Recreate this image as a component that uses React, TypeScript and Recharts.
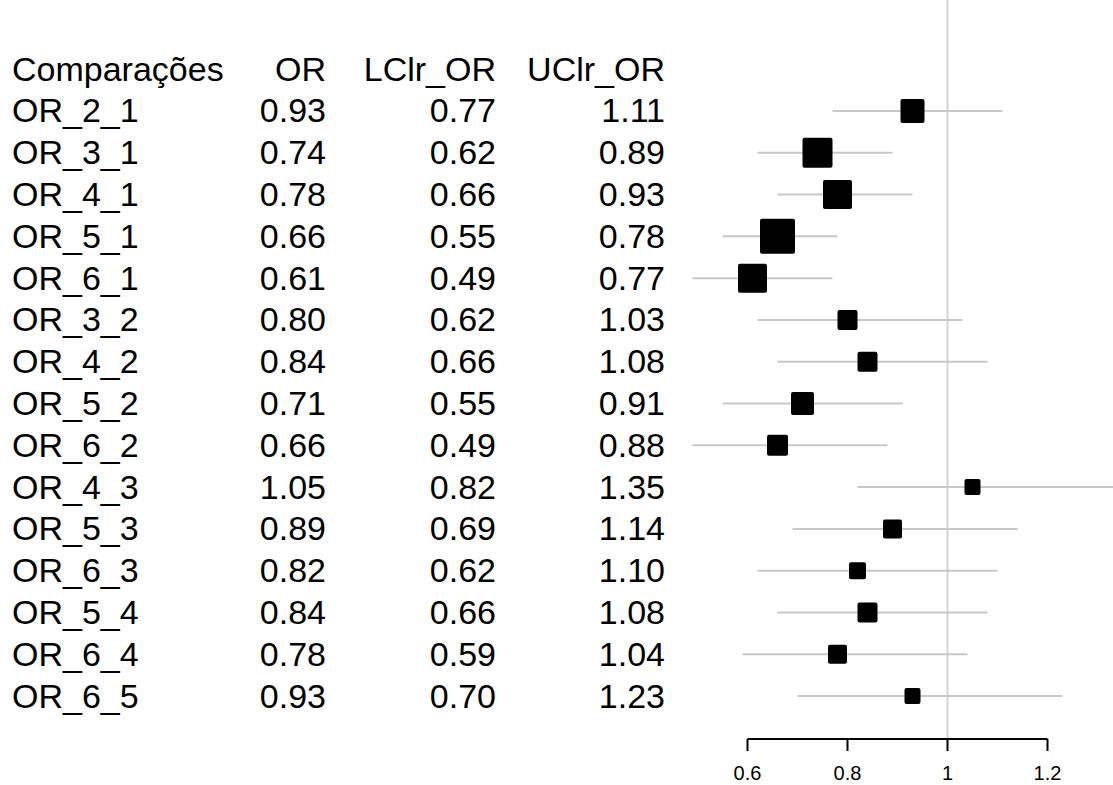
import React from 'react';
import { ComposedChart, Scatter, XAxis, YAxis, ErrorBar, ReferenceLine } from 'recharts';

const headers = ['Comparações', 'OR', 'LClr_OR', 'UClr_OR'];
const comparisons = ['OR_2_1', 'OR_3_1', 'OR_4_1', 'OR_5_1', 'OR_6_1', 'OR_3_2', 'OR_4_2', 'OR_5_2', 'OR_6_2', 'OR_4_3', 'OR_5_3', 'OR_6_3', 'OR_5_4', 'OR_6_4', 'OR_6_5'];
const orValues = [0.93, 0.74, 0.78, 0.66, 0.61, 0.8, 0.84, 0.71, 0.66, 1.05, 0.89, 0.82, 0.84, 0.78, 0.93];
const lowerCI = [0.77, 0.62, 0.66, 0.55, 0.49, 0.62, 0.66, 0.55, 0.49, 0.82, 0.69, 0.62, 0.66, 0.59, 0.7];
const upperCI = [1.11, 0.89, 0.93, 0.78, 0.77, 1.03, 1.08, 0.91, 0.88, 1.35, 1.14, 1.1, 1.08, 1.04, 1.23];
const weights = [24, 30, 29, 35, 29, 20, 20, 23, 21, 16, 19, 17, 20, 19, 16];
const xTicks = [0.6, 0.8, 1, 1.2];

const W = 1113;
const H = 785;
const FONT = '"Liberation Sans", Arial, Helvetica, sans-serif';

const X_MIN = -0.895;
const X_MAX = X_MIN + W / 500;
const Y_MIN = -1.656;
const Y_MAX = 16.028;

const pointData = comparisons.map((c, i) => ({
  row: i + 1,
  x: orValues[i],
  err: [orValues[i] - lowerCI[i], upperCI[i] - orValues[i]],
  w: weights[i],
}));

const tableData = [
  { row: 0, x: 0, cells: headers },
  ...comparisons.map((c, i) => ({
    row: i + 1,
    x: 0,
    cells: [c, orValues[i].toFixed(2), lowerCI[i].toFixed(2), upperCI[i].toFixed(2)],
  })),
];

const colX = [12, 326, 496, 665];

const TableRow = (props: any) => {
  const { cy, payload } = props;
  if (cy == null || !payload) return null;
  const y = cy + 11.5;
  return (
    <g>
      {payload.cells.map((t: string, j: number) => (
        <text
          key={j}
          x={colX[j]}
          y={y}
          textAnchor={j === 0 ? 'start' : 'end'}
          fontSize={34}
          fontFamily={FONT}
          fill="#000"
        >
          {t}
        </text>
      ))}
    </g>
  );
};

const Square = (props: any) => {
  const { cx, cy, payload } = props;
  if (cx == null || cy == null) return null;
  const s = payload.w;
  return <rect x={cx - s / 2} y={cy - s / 2} width={s} height={s} rx={2} ry={2} fill="#000" />;
};

const Tick = (props: any) => {
  const { x, y, payload } = props;
  return (
    <text x={x} y={y + 29} textAnchor="middle" fontSize={20} fontFamily={FONT} fill="#000">
      {payload.value}
    </text>
  );
};

export default function App() {
  return (
    <div style={{ position: 'absolute', left: 0, top: 0, width: W, height: H, background: '#fff' }}>
      <ComposedChart width={W} height={H} margin={{ top: 0, right: 0, bottom: 0, left: 0 }}>
        <XAxis
          type="number"
          dataKey="x"
          domain={[X_MIN, X_MAX]}
          allowDataOverflow
          ticks={xTicks}
          axisLine={false}
          tickLine={{ stroke: '#000', strokeWidth: 2 }}
          tickSize={12}
          tickMargin={0}
          height={H - 739}
          tick={<Tick />}
          interval={0}
        />
        <YAxis type="number" dataKey="row" domain={[Y_MIN, Y_MAX]} reversed allowDataOverflow hide width={0} />
        <ReferenceLine x={1} stroke="#d2d2d2" strokeWidth={2} />
        <ReferenceLine
          segment={[
            { x: 0.6, y: Y_MAX },
            { x: 1.2, y: Y_MAX },
          ]}
          stroke="#000"
          strokeWidth={2}
        />
        <Scatter data={tableData} shape={<TableRow />} isAnimationActive={false} />
        <Scatter data={pointData} shape={<Square />} isAnimationActive={false}>
          <ErrorBar dataKey="err" direction="x" width={0} stroke="#c8c8c8" strokeWidth={2} />
        </Scatter>
      </ComposedChart>
    </div>
  );
}
